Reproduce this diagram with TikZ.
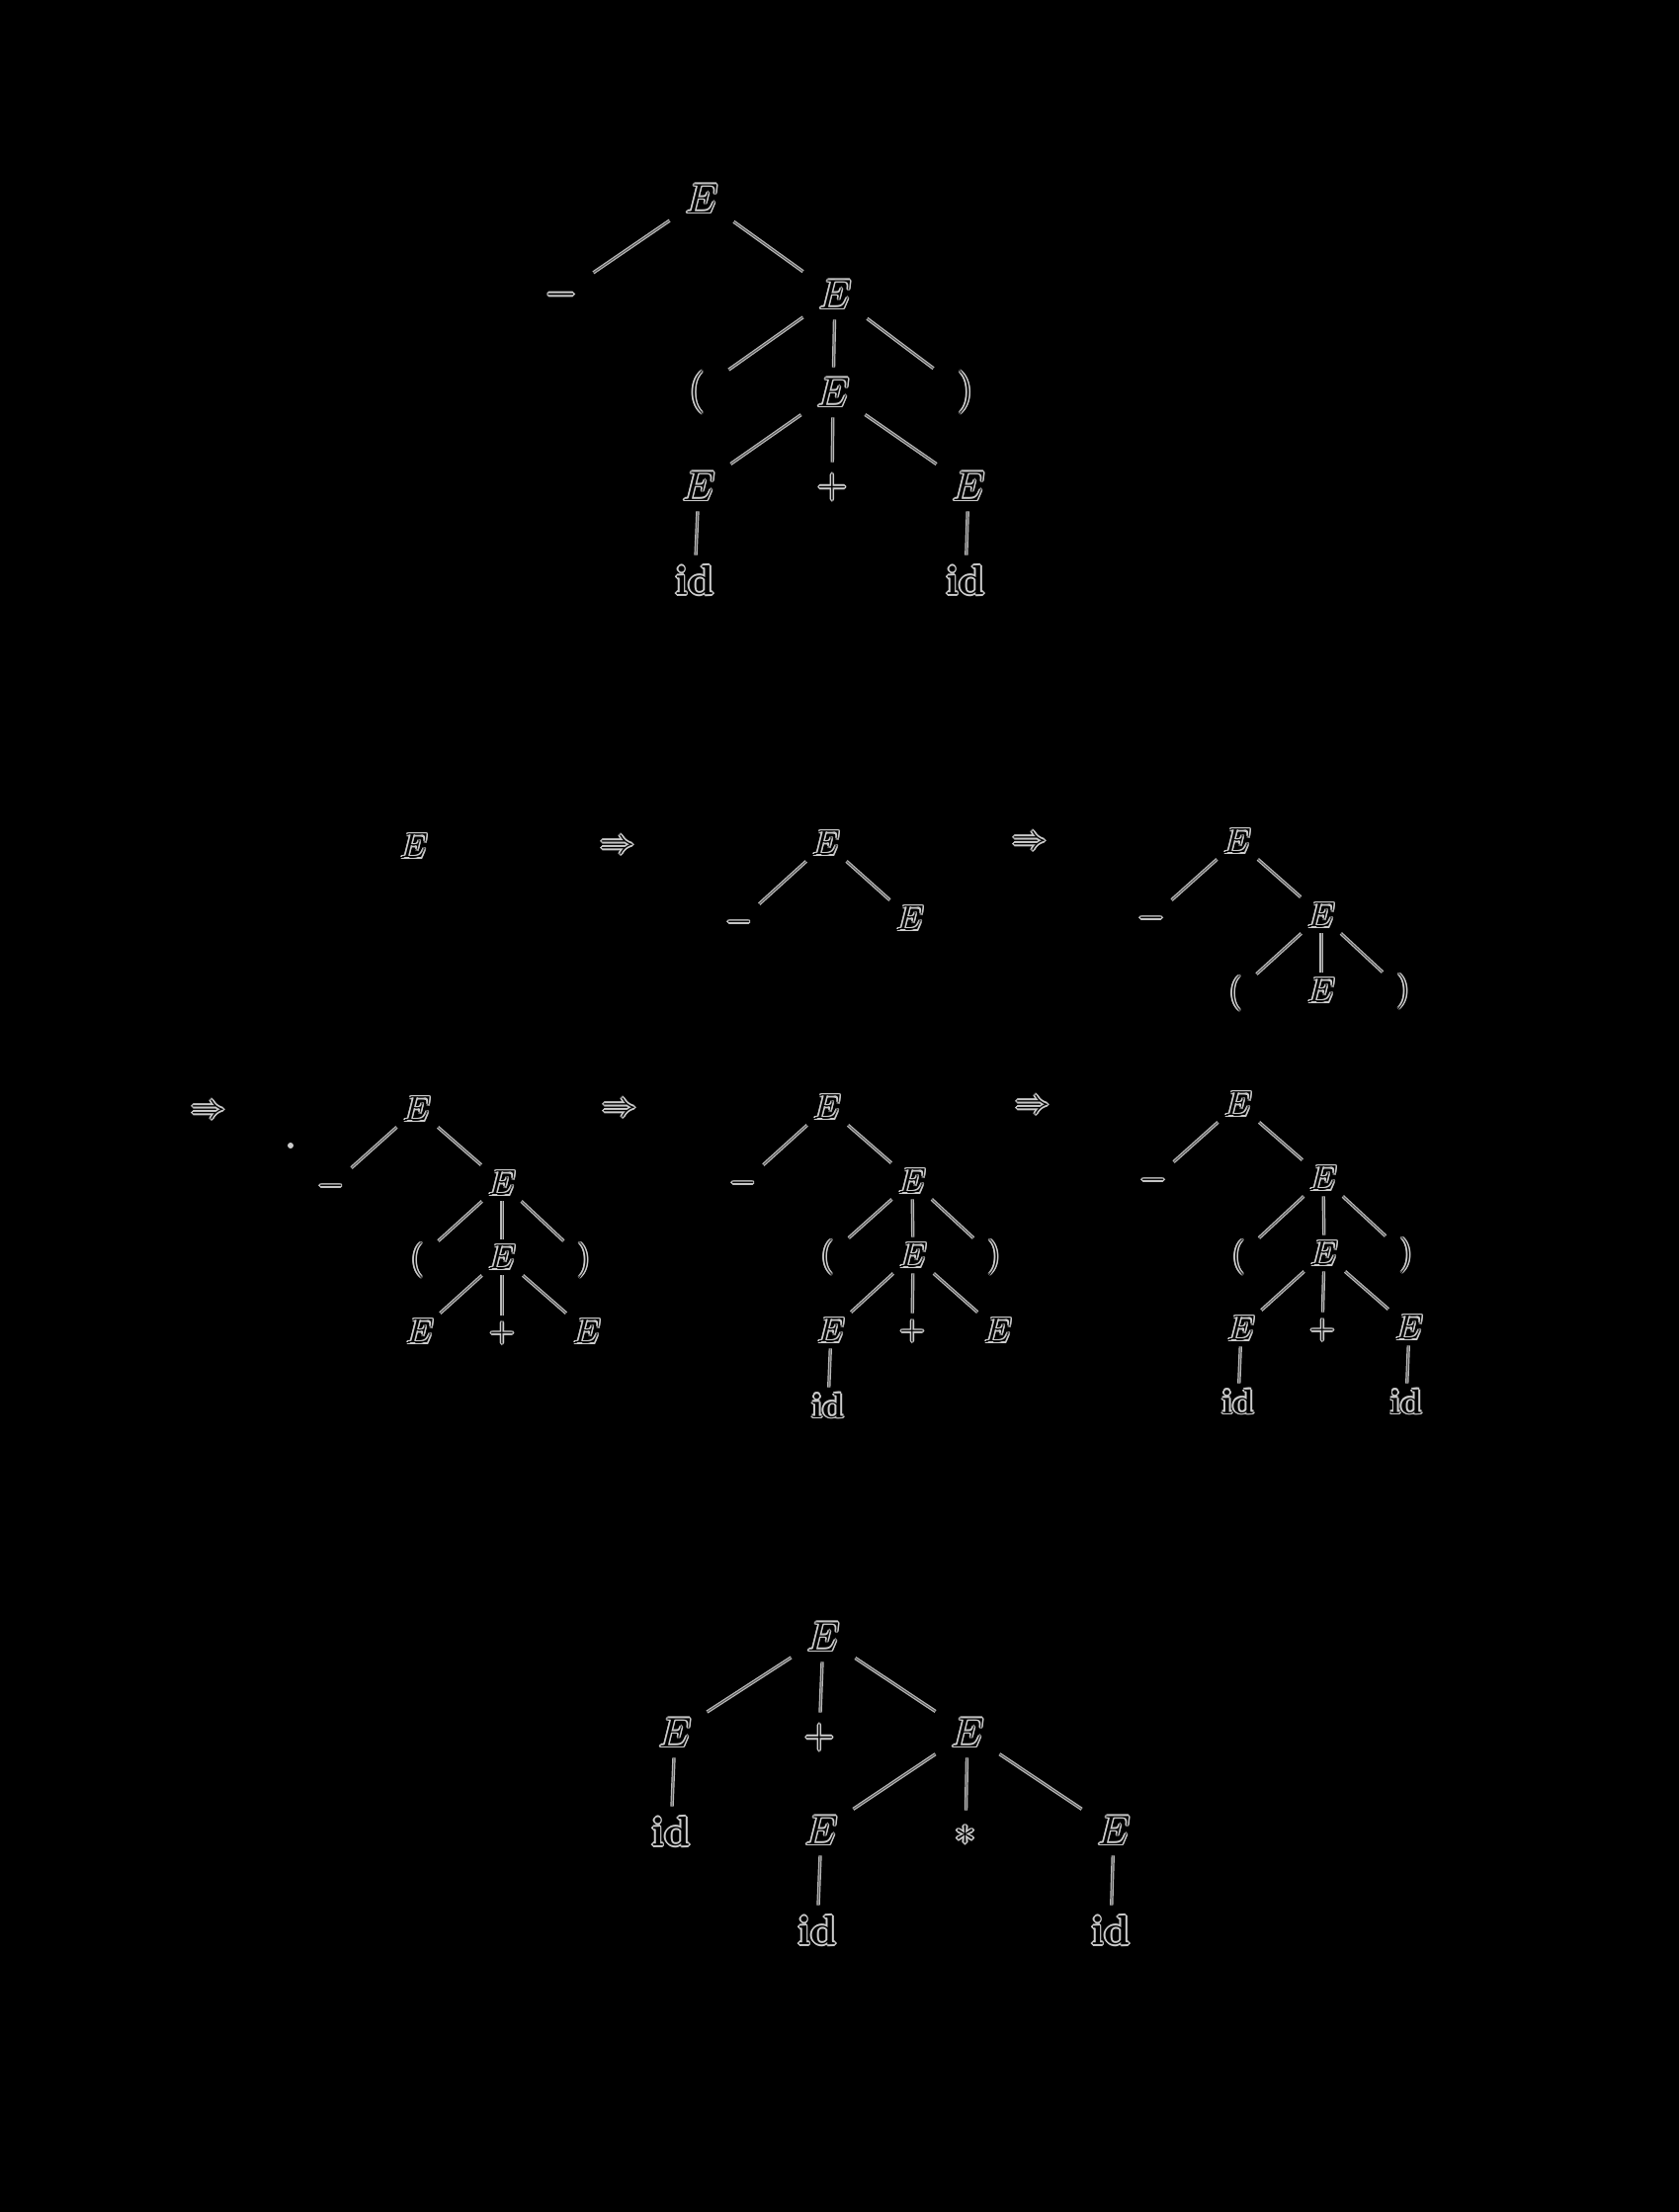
\RequirePackage{fix-cm}
\documentclass[tikz,border=0pt]{standalone}
\definecolor{halo}{gray}{0.80}
\definecolor{lineg}{gray}{0.72}
\definecolor{linec}{gray}{0.35}
\newlength\olw
\setlength\olw{0.8pt}
\newcommand\olt[1]{{\setbox0\hbox{#1}%
  \rlap{\color{halo}\kern\olw\copy0}%
  \rlap{\color{halo}\kern-\olw\copy0}%
  \rlap{\color{halo}\raise\olw\copy0}%
  \rlap{\color{halo}\lower\olw\copy0}%
  \rlap{\color{halo}\kern.7\olw\raise.7\olw\copy0}%
  \rlap{\color{halo}\kern.7\olw\lower.7\olw\copy0}%
  \rlap{\color{halo}\kern-.7\olw\raise.7\olw\copy0}%
  \rlap{\color{halo}\kern-.7\olw\lower.7\olw\copy0}%
  \color{black}\copy0}}
\tikzset{
  big/.style={font=\fontsize{21}{25}\selectfont, inner sep=0pt, minimum width=32pt, minimum height=25pt},
  sml/.style={font=\fontsize{17.5}{21}\selectfont, inner sep=0pt, minimum width=22pt, minimum height=18pt},
  ln/.style={draw=lineg, line width=0.6pt, double=linec, double distance=0.5pt}
}
\begin{document}
\begin{tikzpicture}[x=0.5pt,y=-0.5pt]
\useasboundingbox (0,0) rectangle (1698,2238);
\fill[black] (-20,-20) rectangle (1718,2258);
% ---------- top tree ----------
\node[big] (t1) at (710,201) {\olt{$E$}};
\node[big] (t1m) at (568,298) {\olt{$-$}};
\node[big] (t2) at (845,298) {\olt{$E$}};
\node[big] (t1lp) at (705,397) {\olt{$($}};
\node[big] (t3) at (843,397) {\olt{$E$}};
\node[big] (t1rp) at (977,397) {\olt{$)$}};
\node[big] (t4) at (707,492) {\olt{$E$}};
\node[big] (t1pl) at (842,493) {\olt{$+$}};
\node[big] (t5) at (980,492) {\olt{$E$}};
\node[big] (t1id1) at (703,587) {\olt{\textbf{id}}};
\node[big] (t1id2) at (977,587) {\olt{\textbf{id}}};
\foreach \a/\b in {t1/t1m,t1/t2,t2/t1lp,t2/t3,t2/t1rp,t3/t4,t3/t1pl,t3/t5,t4/t1id1,t5/t1id2}
  \draw[ln] (\a) -- (\b);
% ---------- derivation row 1 ----------
\node[sml] (a1) at (419,856) {\olt{$E$}};
\node[sml] (arr1) at (625,857) {\olt{$\Rightarrow$}};
\node[sml] (b1) at (836,853) {\olt{$E$}};
\node[sml] (b2) at (748,933) {\olt{$-$}};
\node[sml] (b3) at (921,929) {\olt{$E$}};
\node[sml] (arr2) at (1042,853) {\olt{$\Rightarrow$}};
\node[sml] (c1) at (1252,851) {\olt{$E$}};
\node[sml] (c2) at (1165,929) {\olt{$-$}};
\node[sml] (c3) at (1337,926) {\olt{$E$}};
\node[sml] (c4) at (1250,1005) {\olt{$($}};
\node[sml] (c5) at (1337,1002) {\olt{$E$}};
\node[sml] (c6) at (1420,1003) {\olt{$)$}};
\foreach \a/\b in {b1/b2,b1/b3,c1/c2,c1/c3,c3/c4,c3/c5,c3/c6}
  \draw[ln] (\a) -- (\b);
% ---------- derivation row 2 ----------
\node[sml] (arr3) at (211,1125) {\olt{$\Rightarrow$}};
\fill[halo] (294,1159) circle (1.5pt);
\node[sml] (e1) at (422,1122) {\olt{$E$}};
\node[sml] (e2) at (335,1200) {\olt{$-$}};
\node[sml] (e3) at (508,1197) {\olt{$E$}};
\node[sml] (e4) at (422,1275) {\olt{$($}};
\node[sml] (e5) at (508,1272) {\olt{$E$}};
\node[sml] (e6) at (591,1275) {\olt{$)$}};
\node[sml] (e7) at (425,1347) {\olt{$E$}};
\node[sml] (e8) at (508,1349) {\olt{$+$}};
\node[sml] (e9) at (594,1347) {\olt{$E$}};
\node[sml] (arr4) at (627,1123) {\olt{$\Rightarrow$}};
\node[sml] (f1) at (837,1120) {\olt{$E$}};
\node[sml] (f2) at (752,1197) {\olt{$-$}};
\node[sml] (f3) at (923,1195) {\olt{$E$}};
\node[sml] (f4) at (837,1272) {\olt{$($}};
\node[sml] (f5) at (924,1270) {\olt{$E$}};
\node[sml] (f6) at (1006,1272) {\olt{$)$}};
\node[sml] (f7) at (841,1346) {\olt{$E$}};
\node[sml] (f8) at (923,1347) {\olt{$+$}};
\node[sml] (f9) at (1010,1346) {\olt{$E$}};
\node[sml] (f10) at (838,1422) {\olt{\textbf{id}}};
\node[sml] (arr5) at (1045,1120) {\olt{$\Rightarrow$}};
\node[sml] (g1) at (1253,1117) {\olt{$E$}};
\node[sml] (g2) at (1167,1194) {\olt{$-$}};
\node[sml] (g3) at (1339,1192) {\olt{$E$}};
\node[sml] (g4) at (1253,1272) {\olt{$($}};
\node[sml] (g5) at (1340,1268) {\olt{$E$}};
\node[sml] (g6) at (1423,1270) {\olt{$)$}};
\node[sml] (g7) at (1256,1344) {\olt{$E$}};
\node[sml] (g8) at (1338,1346) {\olt{$+$}};
\node[sml] (g9) at (1426,1343) {\olt{$E$}};
\node[sml] (g10) at (1253,1418) {\olt{\textbf{id}}};
\node[sml] (g11) at (1423,1418) {\olt{\textbf{id}}};
\foreach \a/\b in {e1/e2,e1/e3,e3/e4,e3/e5,e3/e6,e5/e7,e5/e8,e5/e9,
                   f1/f2,f1/f3,f3/f4,f3/f5,f3/f6,f5/f7,f5/f8,f5/f9,f7/f10,
                   g1/g2,g1/g3,g3/g4,g3/g5,g3/g6,g5/g7,g5/g8,g5/g9,g7/g10,g9/g11}
  \draw[ln] (\a) -- (\b);
% ---------- bottom tree ----------
\node[big] (h1) at (833,1656) {\olt{$E$}};
\node[big] (h2) at (683,1753) {\olt{$E$}};
\node[big] (h3) at (829,1758) {\olt{$+$}};
\node[big] (h4) at (979,1753) {\olt{$E$}};
\node[big] (h5) at (679,1853) {\olt{\textbf{id}}};
\node[big] (h6) at (831,1852) {\olt{$E$}};
\node[big] (h7) at (977,1857) {\olt{$*$}};
\node[big] (h8) at (1127,1852) {\olt{$E$}};
\node[big] (h9) at (827,1953) {\olt{\textbf{id}}};
\node[big] (h10) at (1124,1953) {\olt{\textbf{id}}};
\foreach \a/\b in {h1/h2,h1/h3,h1/h4,h2/h5,h4/h6,h4/h7,h4/h8,h6/h9,h8/h10}
  \draw[ln] (\a) -- (\b);
\end{tikzpicture}
\end{document}
